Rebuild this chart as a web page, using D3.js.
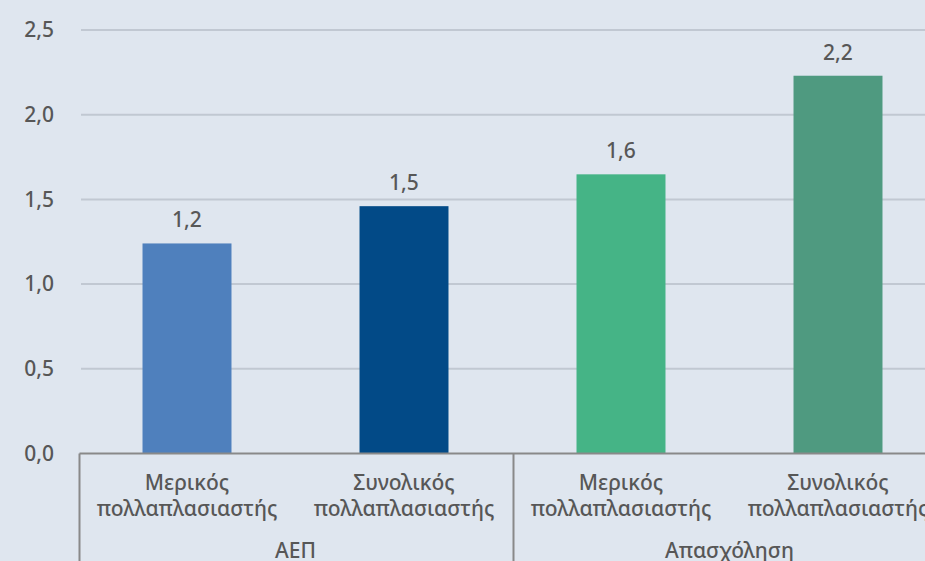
<!DOCTYPE html>
<html>
<head>
<meta charset="utf-8">
<script src="https://cdn.jsdelivr.net/npm/d3@7"></script>
<style>
  html, body { margin: 0; padding: 0; background: #dfe6ef; }
  svg { display: block; }
  text { font-family: "Noto Sans", "Open Sans", sans-serif; fill: #575757; }
</style>
</head>
<body>
<svg id="chart" width="925" height="561"></svg>
<script>
// Multiplier estimates: partial vs total, for GDP and employment
const categories = ["Μερικός\nπολλαπλασιαστής", "Συνολικός\nπολλαπλασιαστής",
                    "Μερικός\nπολλαπλασιαστής", "Συνολικός\nπολλαπλασιαστής"];
const groups = ["ΑΕΠ", "Απασχόληση"];
const groupOf = [0, 0, 1, 1];
const values = [1.24, 1.46, 1.648, 2.23];
const barColors = ["#4f80bd", "#024a87", "#45b486", "#4f9a80"];
const yTicks = [0, 0.5, 1.0, 1.5, 2.0, 2.5];

const W = 925, H = 561;
const svg = d3.select("#chart");
svg.append("rect").attr("width", W).attr("height", H).attr("fill", "#dfe6ef");

const el = d3.formatLocale({ decimal: ",", thousands: ".", grouping: [3], currency: ["", " €"] });
const fmt = el.format(".1f");

const x0 = 78.5, step = 217;
const x = d3.scaleBand()
  .domain(d3.range(categories.length))
  .range([x0, x0 + step * categories.length])
  .paddingInner(0.59).paddingOuter(0.295);

const y = d3.scaleLinear().domain([0, 2.5]).range([453.5, 30]);

// Gridlines
svg.append("g").selectAll("line").data(yTicks.filter(d => d > 0)).join("line")
  .attr("x1", 81).attr("x2", W)
  .attr("y1", d => y(d)).attr("y2", d => y(d))
  .attr("stroke", "#c1c8d2").attr("stroke-width", 2);

// Y axis labels
const yAxis = d3.axisLeft(y).tickValues(yTicks).tickFormat(fmt).tickSize(0).tickPadding(0);
const gy = svg.append("g").attr("transform", "translate(54,0)").call(yAxis);
gy.select(".domain").remove();
gy.selectAll("text").attr("font-size", 21).attr("font-weight", 500).attr("fill", "#555")
  .attr("font-family", "'Noto Sans', 'Open Sans', sans-serif");

// Bars
svg.append("g").selectAll("rect").data(values).join("rect")
  .attr("x", (d, i) => x(i))
  .attr("width", x.bandwidth())
  .attr("y", d => y(d))
  .attr("height", d => y(0) - y(d))
  .attr("fill", (d, i) => barColors[i]);

// Value labels
svg.append("g").selectAll("text").data(values).join("text")
  .attr("x", (d, i) => x(i) + x.bandwidth() / 2)
  .attr("y", d => y(d) - 16)
  .attr("text-anchor", "middle")
  .attr("font-size", 21).attr("font-weight", 500).attr("fill", "#555")
  .text(d => fmt(d));

// Category axis: baseline and group separators
const axisColor = "#898989";
svg.append("line").attr("x1", 79.5).attr("x2", W).attr("y1", y(0)).attr("y2", y(0))
  .attr("stroke", axisColor).attr("stroke-width", 2);
const sepX = [0, 2, 4].map(i => x0 + step * i);
svg.append("g").selectAll("line").data(sepX).join("line")
  .attr("x1", d => d + 1).attr("x2", d => d + 1)
  .attr("y1", y(0)).attr("y2", H)
  .attr("stroke", axisColor).attr("stroke-width", 2);

// Category labels (two lines each)
const catG = svg.append("g").selectAll("text").data(categories).join("text")
  .attr("text-anchor", "middle").attr("font-size", 21).attr("font-weight", 500);
catG.each(function(d, i) {
  const cx = x(i) + x.bandwidth() / 2;
  d.split("\n").forEach((line, k) => {
    d3.select(this).append("tspan").attr("x", cx).attr("y", 490 + k * 26).text(line);
  });
});

// Group labels
svg.append("g").selectAll("text").data(groups).join("text")
  .attr("text-anchor", "middle").attr("font-size", 21).attr("font-weight", 500)
  .attr("x", (g, gi) => {
    const idx = groupOf.map((v, i) => v === gi ? i : -1).filter(i => i >= 0);
    return (x0 + step * idx[0] + x0 + step * (idx[idx.length - 1] + 1)) / 2;
  })
  .attr("y", 558)
  .text(g => g);
</script>
</body>
</html>
